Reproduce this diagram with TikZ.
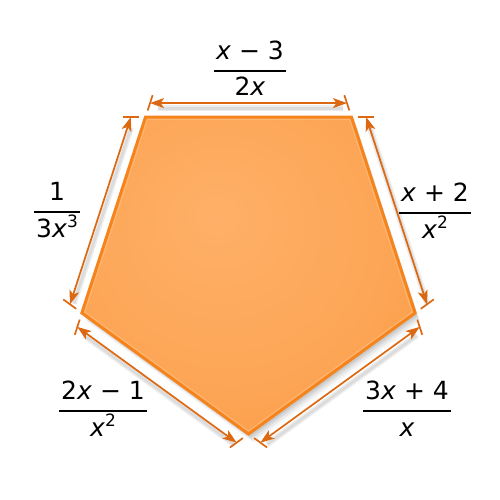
\documentclass[tikz,border=0pt]{standalone}
\usepackage{fontspec}
\setmainfont{DejaVu Sans}
\usetikzlibrary{calc,arrows.meta}
\definecolor{dimc}{RGB}{220,104,18}
\definecolor{pentout}{RGB}{248,148,56}
\definecolor{pentin}{RGB}{255,176,104}
\definecolor{pentedge}{RGB}{246,132,28}
\definecolor{pentlite}{RGB}{255,190,130}
\setlength{\arrayrulewidth}{1.8pt}
\newcommand\fr[2]{\begin{tabular}{@{\hspace{2pt}}c@{\hspace{2pt}}}\rule[-11pt]{0pt}{0pt}#1\\\hline\rule{0pt}{24pt}#2\end{tabular}}
\newcommand\xx{\textit{x}}
\newcommand\sups[1]{\raisebox{0.4em}{\fontsize{17}{17}\selectfont #1}}
\pgfdeclareradialshading{pentshade}{\pgfpoint{-5bp}{10bp}}{color(0bp)=(pentin); color(25bp)=(pentin!60!pentout); color(45bp)=(pentout); color(60bp)=(pentout)}
\begin{document}
\begin{tikzpicture}[x=1pt,y=1pt,
  dimline/.style={dimc, line width=1.7pt, {Stealth[length=14pt,width=10pt,inset=3.5pt]}-{Stealth[length=14pt,width=10pt,inset=3.5pt]}},
  dimshadow/.style={black, opacity=0.07, line width=#1},
  tickline/.style={dimc, line width=1.7pt},
  lbl/.style={font=\fontsize{25}{28}\selectfont, inner sep=0pt}]
\useasboundingbox (0,0) rectangle (500,-500);
\coordinate (C) at (248.5,-258.8);
\foreach \i/\a in {0/-90,1/-18,2/54,3/126,4/198}
  \coordinate (V\i) at ($(C)+(\a:175.2)$);
% shadow of pentagon
\foreach \k/\op in {3/0.08,5/0.07,7/0.05,9/0.03}
  \fill[black,opacity=\op] ($(V0)+(\k*0.6,-\k)$) -- ($(V1)+(\k*0.6,-\k)$) -- ($(V2)+(\k*0.6,-\k)$) -- ($(V3)+(\k*0.6,-\k)$) -- ($(V4)+(\k*0.6,-\k)$) -- cycle;
\fill[white] (V0) -- (V1) -- (V2) -- (V3) -- (V4) -- cycle;
% pentagon
\path[shading=pentshade] (V0) -- (V1) -- (V2) -- (V3) -- (V4) -- cycle;
\draw[pentedge, line width=3pt, line join=miter] (V0) -- (V1) -- (V2) -- (V3) -- (V4) -- cycle;
\coordinate (C2) at (C);
\draw[pentlite, line width=1pt, line join=miter, opacity=0.7]
  ($(V0)!3pt!(C2)$) -- ($(V1)!3pt!(C2)$) -- ($(V2)!3pt!(C2)$) -- ($(V3)!3pt!(C2)$) -- ($(V4)!3pt!(C2)$) -- cycle;
% dimension end points
\def\t{14.7pt}
\coordinate (Ta) at ($(V3)!-\t!(V4)$);
\coordinate (Tb) at ($(V2)!-\t!(V1)$);
\coordinate (Ra) at ($(V2)!-\t!(V3)$);
\coordinate (Rb) at ($(V1)!-\t!(V0)$);
\coordinate (BRa) at ($(V1)!-\t!(V2)$);
\coordinate (BRb) at ($(V0)!-\t!(V4)$);
\coordinate (BLa) at ($(V0)!-\t!(V1)$);
\coordinate (BLb) at ($(V4)!-\t!(V3)$);
\coordinate (La) at ($(V4)!-\t!(V0)$);
\coordinate (Lb) at ($(V3)!-\t!(V2)$);
% shadows of dimension lines
\foreach \p/\q in {Ta/Tb,Ra/Rb,BRa/BRb,BLa/BLb,La/Lb}{
  \draw[dimshadow=6pt] ($(\p)!6pt!(\q)+(2,-5)$) -- ($(\q)!6pt!(\p)+(2,-5)$);
  \draw[dimshadow=3pt] ($(\p)!6pt!(\q)+(2,-5)$) -- ($(\q)!6pt!(\p)+(2,-5)$);}
% ticks
\foreach \v/\w in {V3/V4,V2/V1,V2/V3,V1/V0,V1/V2,V0/V4,V0/V1,V4/V3,V4/V0,V3/V2}
  \draw[tickline] ($(\v)!-7pt!(\w)$) -- ($(\v)!-23pt!(\w)$);
% dimension lines
\draw[dimline] (Ta) -- (Tb);
\draw[dimline] (Ra) -- (Rb);
\draw[dimline] (BRa) -- (BRb);
\draw[dimline] (BLa) -- (BLb);
\draw[dimline] (La) -- (Lb);
% labels
\node[lbl] (Ltop) at (250,-72) {\fr{\xx{} − 3}{2\xx}};
\node[lbl] (Lleft) at (57,-213) {\fr{1}{3\xx\sups{3}}};
\node[lbl] (Lright) at (435,-214) {\fr{\xx{} + 2}{\xx\sups{2}}};
\node[lbl] (Lbl) at (103,-412) {\fr{2\xx{} − 1}{\xx\sups{2}}};
\node[lbl] (Lbr) at (407,-412) {\fr{3\xx{} + 4}{\xx}};
\end{tikzpicture}
\end{document}
